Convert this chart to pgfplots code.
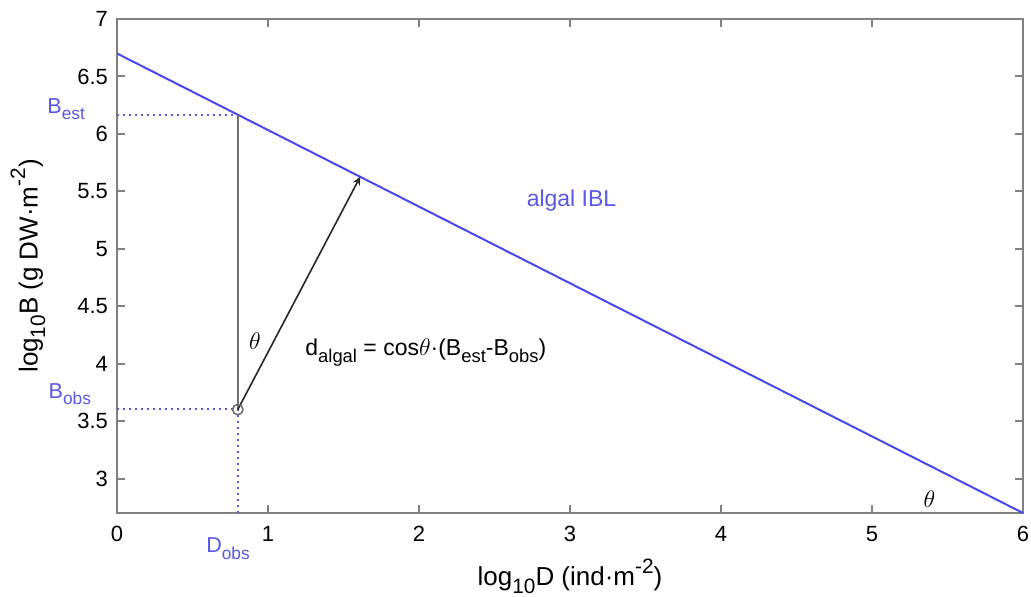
\documentclass[border=0pt]{standalone}
\usepackage{fontspec}
\setmainfont{Liberation Sans}
\usepackage{graphicx}
\usepackage{pgfplots}
\pgfplotsset{compat=1.18}
\definecolor{iblBlue}{RGB}{72,72,235}
\definecolor{lblBlue}{RGB}{88,88,228}
\definecolor{axGray}{RGB}{128,128,128}
\definecolor{refGray}{RGB}{112,112,112}
% matlab-style sub/superscripts, set in the text font
\newcommand{\sub}[1]{\raisebox{-0.55ex}{\scalebox{0.8}{#1}}}
\newcommand{\sups}[1]{\raisebox{0.9ex}{\scalebox{0.8}{#1}}}

\begin{document}
\begin{tikzpicture}
\begin{axis}[
    scale only axis, width=453pt, height=247pt,
    xmin=0, xmax=6, ymin=2.7, ymax=7,
    xtick={0,1,2,3,4,5,6},
    ytick={3,3.5,4,4.5,5,5.5,6,6.5,7},
    axis line style={axGray, line width=1pt},
    tick style={axGray, line width=1pt},
    major tick length=4pt, tick align=inside,
    ticklabel style={font=\fontsize{11}{12}\selectfont},
    /pgf/number format/assume math mode=true,
    xticklabel style={yshift=-3pt},
    yticklabel style={xshift=-1pt},
    clip=false,
]
% isometric biomass line
\addplot[iblBlue, line width=1pt] coordinates {(0,6.7) (6,2.7)};
% guide lines
\addplot[lblBlue, dotted, line width=1pt] coordinates {(0,6.167) (0.8,6.167)};
\addplot[lblBlue, dotted, line width=1pt] coordinates {(0,3.605) (0.8,3.605)};
\addplot[lblBlue, dotted, line width=1pt] coordinates {(0.8,2.7) (0.8,3.6)};
\addplot[refGray, line width=1pt] coordinates {(0.8,3.6) (0.8,6.167)};
\addplot[black!85, -stealth, line width=0.8pt] coordinates {(0.8,3.6) (1.61,5.625)};
\addplot[only marks, mark=o, mark size=2.6pt, refGray, line width=0.8pt] coordinates {(0.8,3.6)};

\node[lblBlue, anchor=base east, font=\fontsize{10.8}{12}\selectfont]
    at ([xshift=-12.5pt]axis cs:0,6.18) {B\sub{est}};
\node[lblBlue, anchor=base east, font=\fontsize{10.8}{12}\selectfont]
    at ([xshift=-9.5pt]axis cs:0,3.70) {B\sub{obs}};
\node[lblBlue, anchor=base, font=\fontsize{10.8}{12}\selectfont]
    at ([yshift=-20pt]axis cs:0.735,2.7) {D\sub{obs}};
\node[font=\fontsize{13}{14}\selectfont] at (axis cs:0.914,4.20) {$\theta$};
\node[font=\fontsize{13}{14}\selectfont] at (axis cs:5.38,2.82) {$\theta$};
\node[anchor=base west, inner sep=0pt, font=\fontsize{11.5}{13}\selectfont]
    at (axis cs:1.245,4.07) {d\sub{algal} = cos$\theta$·(B\sub{est}-B\sub{obs})};
\node[lblBlue, font=\fontsize{11.5}{13}\selectfont] at (axis cs:3.01,5.42) {algal IBL};

\node[font=\fontsize{13}{15}\selectfont]
    at ([yshift=-31.5pt]rel axis cs:0.5,0) {log\sub{10}D (ind·m\sups{-2})};
\node[rotate=90, font=\fontsize{13}{15}\selectfont]
    at ([xshift=-44.5pt]rel axis cs:0,0.5) {log\sub{10}B (g DW·m\sups{-2})};

\coordinate (sw) at (rel axis cs:0,0);
\coordinate (ne) at (rel axis cs:1,1);
\end{axis}
\pgfresetboundingbox
\path[use as bounding box] ([shift={(-58.5pt,-42pt)}]sw) rectangle ([shift={(4pt,9.5pt)}]ne);
\end{tikzpicture}
\end{document}
